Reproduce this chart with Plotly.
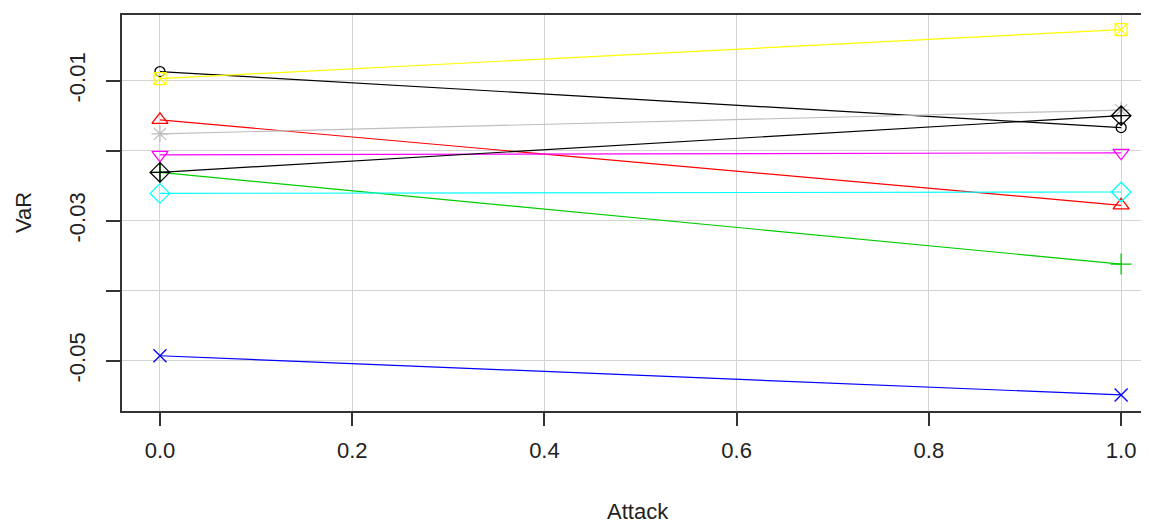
import plotly.graph_objects as go

attack = [0.0, 1.0]

series_names = ["S1", "S2", "S3", "S4", "S5", "S6", "S7", "S8", "S9"]
var_at_0 = [-0.0087, -0.0156, -0.0231, -0.0493, -0.0261, -0.0206, -0.0097, -0.0176, -0.0231]
var_at_1 = [-0.0167, -0.0278, -0.0362, -0.0549, -0.0259, -0.0203, -0.0027, -0.0142, -0.0150]

colors = ["#000000", "#FF0000", "#00CD00", "#0000FF", "#00FFFF", "#FF00FF", "#FFFF00", "#BEBEBE", "#000000"]
symbols = ["circle-open", "triangle-up-open", "cross-thin-open", "x-thin-open", "diamond-open",
           "triangle-down-open", "square-x-open", "asterisk-open", "diamond-cross-open"]
sizes = [10, 14, 15, 13, 15, 14, 12, 14, 15]

y_tickvals = [-0.01, -0.02, -0.03, -0.04, -0.05]
y_ticktext = ["-0.01", "", "-0.03", "", "-0.05"]
x_tickvals = [0.0, 0.2, 0.4, 0.6, 0.8, 1.0]
x_ticktext = ["0.0", "0.2", "0.4", "0.6", "0.8", "1.0"]

fig = go.Figure()
for i, name in enumerate(series_names):
    fig.add_trace(go.Scatter(
        x=attack, y=[var_at_0[i], var_at_1[i]], mode="lines+markers", name=name,
        line=dict(color=colors[i], width=1.2),
        marker=dict(symbol=symbols[i], size=sizes[i], color=colors[i],
                    line=dict(color=colors[i], width=1.3)),
        showlegend=False,
    ))

font_family = "Liberation Sans, Arial, sans-serif"
fig.update_layout(
    width=1141, height=516,
    margin=dict(l=114, r=0, t=7, b=113),
    plot_bgcolor="white", paper_bgcolor="white",
    font=dict(family=font_family, size=22, color="#222222"),
    xaxis=dict(range=[-0.0395, 1.029], tickvals=x_tickvals, ticktext=x_ticktext,
               showgrid=True, gridcolor="#D3D3D3", gridwidth=1.3,
               showline=True, linecolor="#333333", linewidth=1.5, mirror=True,
               ticks="outside", ticklen=13, tickcolor="#333333", tickwidth=1.5,
               zeroline=False, ticklabelstandoff=6),
    yaxis=dict(range=[-0.05719, -0.000614], tickvals=y_tickvals, ticktext=y_ticktext,
               showgrid=True, gridcolor="#D3D3D3", gridwidth=1.3,
               showline=True, linecolor="#333333", linewidth=1.5,
               ticks="outside", ticklen=14, tickcolor="#333333", tickwidth=1.5,
               tickangle=-90, zeroline=False, ticklabelstandoff=12),
    annotations=[
        dict(text="Attack", xref="paper", yref="paper", x=0.5024, y=-0.255,
             xanchor="center", yanchor="middle", showarrow=False,
             font=dict(family=font_family, size=22, color="#222222")),
        dict(text="VaR", xref="paper", yref="paper", x=-0.0964, y=0.5025,
             xanchor="center", yanchor="middle", showarrow=False, textangle=-90,
             font=dict(family=font_family, size=22, color="#222222")),
    ],
)

fig.write_html("out.html")
